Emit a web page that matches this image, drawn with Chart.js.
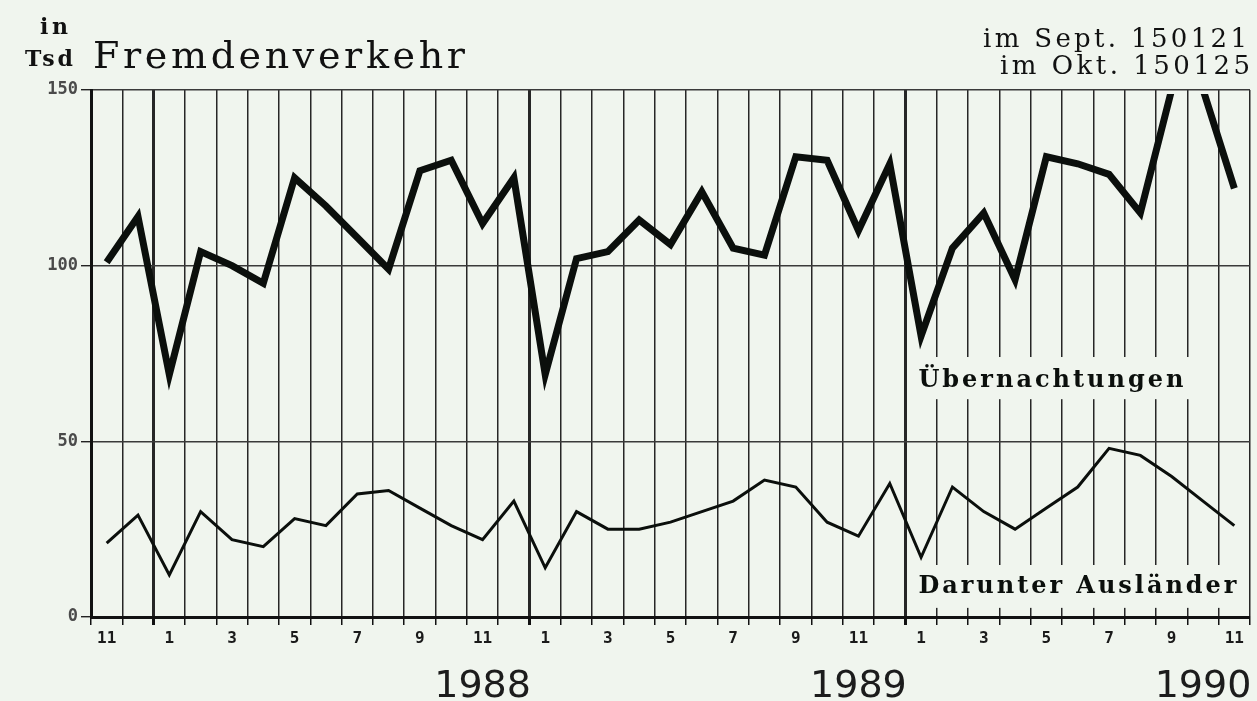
<!DOCTYPE html>
<html>
<head>
<meta charset="utf-8">
<script src="https://cdn.jsdelivr.net/npm/chart.js@4.4.1/dist/chart.umd.min.js"></script>
<style>
  html, body { margin: 0; padding: 0; background: #f0f5ee; }
</style>
</head>
<body>
<canvas id="chart1" width="1257" height="701"></canvas>
<script>
// Monate 11/1987 bis 11/1990
const months = ['11','12',
  '1','2','3','4','5','6','7','8','9','10','11','12',
  '1','2','3','4','5','6','7','8','9','10','11','12',
  '1','2','3','4','5','6','7','8','9','10','11'];
const yearTicks = ['1988', '1989', '1990'];
const yearTickAt = [12, 24, 35];

// in Tsd
const uebernachtungen = [101, 114, 69, 104, 100, 95, 125, 117, 108, 99, 127, 130, 112, 125,
  69, 102, 104, 113, 106, 121, 105, 103, 131, 130, 110, 129,
  80, 105, 115, 96, 131, 129, 126, 115, 150.121, 150.125, 122];
const auslaender = [21, 29, 12, 30, 22, 20, 28, 26, 35, 36, 31, 26, 22, 33,
  14, 30, 25, 25, 27, 30, 33, 39, 37, 27, 23, 38,
  17, 37, 30, 25, 31, 37, 48, 46, 40, 33, 26];

const yTicks = [0, 50, 100, 150];

const bg = '#f0f5ee';
const ink = '#0b0f0c';

const ctx = document.getElementById('chart1');

// schreibt Text auf eine feste Breite (Schreibmaschinen-Look)
function spacedText(c, text, x, y, targetW, align) {
  c.letterSpacing = '0px';
  const w = c.measureText(text).width;
  const ls = text.length > 1 ? (targetW - w) / (text.length - 1) : 0;
  c.letterSpacing = ls + 'px';
  c.textAlign = 'left';
  let x0 = x;
  if (align === 'right') x0 = x - targetW;
  if (align === 'center') x0 = x - targetW / 2;
  c.fillText(text, x0, y);
  c.letterSpacing = '0px';
}

const notes = [
  {text: 'Übernachtungen', from: 26, to: 35.25, top: 74, bottom: 62, base: 65.5, width: 265},
  {text: 'Darunter Ausländer', from: 26, to: 36.9, top: 14.8, bottom: 2.6, base: 6.8, width: 318}
];

const paper = {
  id: 'paper',
  beforeDraw(chart) {
    const c = chart.ctx;
    c.save();
    c.fillStyle = bg;
    c.fillRect(0, 0, chart.width, chart.height);
    c.restore();
  },
  beforeDatasetsDraw(chart) {
    const c = chart.ctx;
    const {x, y} = chart.scales;
    const step = x.getPixelForValue(1) - x.getPixelForValue(0);
    const gridX = k => x.getPixelForValue(k) - step / 2;
    c.save();
    notes.forEach(n => {
      const l = gridX(n.from) + 2.5;
      const r = gridX(n.to);
      c.fillStyle = bg;
      c.fillRect(l, y.getPixelForValue(n.top), r - l, y.getPixelForValue(n.bottom) - y.getPixelForValue(n.top));
      c.fillStyle = ink;
      c.font = 'bold 24px "DejaVu Serif"';
      c.textBaseline = 'alphabetic';
      spacedText(c, n.text, gridX(n.from) + 13, y.getPixelForValue(n.base), n.width, 'left');
    });
    c.restore();
  },
  afterDraw(chart) {
    const c = chart.ctx;
    c.save();
    c.fillStyle = '#111';
    c.textBaseline = 'alphabetic';
    c.font = 'bold 22px "DejaVu Serif"';
    spacedText(c, 'in', 54, 34, 28, 'center');
    spacedText(c, 'Tsd', 25, 66, 48, 'left');
    c.font = '38px "DejaVu Serif"';
    spacedText(c, 'Fremdenverkehr', 93, 68, 372, 'left');
    c.font = '26px "DejaVu Serif"';
    spacedText(c, 'im Sept. 150121', 1247, 47, 264, 'right');
    spacedText(c, 'im Okt. 150125', 1250, 74, 250, 'right');
    c.restore();
  }
};

new Chart(ctx, {
  type: 'line',
  data: {
    labels: months,
    datasets: [{
      label: 'Übernachtungen',
      data: uebernachtungen,
      borderColor: ink,
      borderWidth: 7,
      borderJoinStyle: 'miter',
      pointRadius: 0,
      tension: 0,
      clip: {left: 4, top: -4, right: 4, bottom: 4}
    }, {
      label: 'Darunter Ausländer',
      data: auslaender,
      borderColor: ink,
      borderWidth: 3,
      borderJoinStyle: 'miter',
      pointRadius: 0,
      tension: 0
    }]
  },
  options: {
    responsive: false,
    animation: false,
    events: [],
    devicePixelRatio: 1,
    layout: {padding: {top: 90, right: 7, left: 0, bottom: 0}},
    plugins: {
      legend: {display: false},
      tooltip: {enabled: false},
      title: {display: false}
    },
    scales: {
      x: {
        offset: true,
        weight: 0,
        grid: {
          offset: true,
          color: '#262626',
          tickColor: '#111',
          tickLength: 8,
          lineWidth: c => (c.index !== undefined && months[c.index] === '1') ? 3 : 1.5
        },
        border: {display: true, color: '#111', width: 3},
        ticks: {
          autoSkip: false,
          maxRotation: 0,
          padding: 4,
          color: '#1a1a1a',
          font: {family: 'DejaVu Sans Mono', size: 16, weight: 'bold'},
          callback: (v, i) => (+months[i] % 2 === 1) ? months[i] : ''
        },
        afterFit(s) { s.height = 43; }
      },
      x2: {
        type: 'category',
        labels: months,
        position: 'bottom',
        offset: true,
        weight: 1,
        grid: {display: false, drawTicks: false},
        border: {display: false},
        ticks: {
          autoSkip: false,
          maxRotation: 0,
          padding: 4,
          color: '#1c1c1c',
          font: {family: 'DejaVu Sans', size: 38},
          callback: (v, i) => yearTickAt.indexOf(i) >= 0 ? yearTicks[yearTickAt.indexOf(i)] : ''
        },
        afterFit(s) { s.height = 41; }
      },
      y: {
        min: 0,
        max: 150,
        afterBuildTicks(s) { s.ticks = yTicks.map(v => ({value: v})); },
        grid: {color: '#3a3a3a', lineWidth: 1.4, tickLength: 10, tickColor: '#222'},
        border: {display: true, color: '#111', width: 3},
        ticks: {
          padding: 3,
          color: '#4a4a4a',
          font: {family: 'DejaVu Sans Mono', size: 17, weight: 'bold'}
        },
        afterFit(s) { s.width = 91; }
      }
    }
  },
  plugins: [paper]
});
</script>
</body>
</html>
